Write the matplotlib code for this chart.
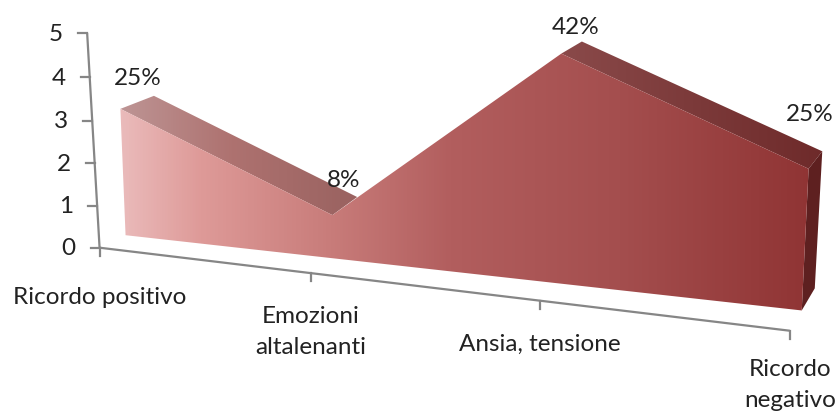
import numpy as np
import matplotlib
matplotlib.use("Agg")
import matplotlib.pyplot as plt
from matplotlib.path import Path
from matplotlib.patches import PathPatch, Polygon
from matplotlib.colors import LinearSegmentedColormap

W, H = 838, 412
categories = ["Ricordo positivo", "Emozioni\naltalenanti", "Ansia, tensione", "Ricordo\nnegativo"]
values = [3, 1, 5, 3]
percent_labels = ["25%", "8%", "42%", "25%"]
y_ticks = [0, 1, 2, 3, 4, 5]


def fit(pairs):
    """Least-squares homography from (category, value) to pixels."""
    A, b = [], []
    for (u, v), (x, y) in pairs:
        A.append([u, v, 1, 0, 0, 0, -u * x, -v * x]); b.append(x)
        A.append([0, 0, 0, u, v, 1, -u * y, -v * y]); b.append(y)
    h = np.linalg.lstsq(np.array(A, float), np.array(b, float), rcond=None)[0]
    M = np.append(h, 1).reshape(3, 3)

    def proj(u, v):
        p = M @ np.array([u, v, 1.0])
        return p[0] / p[2], p[1] / p[2]
    return proj


front = fit([((0, 0), (126, 235)), ((3, 0), (802, 311)), ((0, 3), (120, 109)),
             ((3, 3), (808, 168)), ((1, 1), (332, 215)), ((2, 5), (562, 54))])
back = fit([((0, 3), (154, 96)), ((1, 1), (357, 197)), ((2, 5), (582, 41)),
            ((3, 3), (822, 152)), ((3, 0), (815, 288))])
wall = fit([((0, 0), (100, 248)), ((0, 1), (97, 206)), ((0, 2), (95, 164)),
            ((0, 3), (92, 120)), ((0, 4), (90, 77)), ((0, 5), (87, 33)),
            ((1, 0), (310, 273)), ((2, 0), (540, 301)), ((3, 0), (790, 330)),
            ((3, 5), (800, 90))])

fig = plt.figure(figsize=(W / 100, H / 100), dpi=100)
ax = fig.add_axes([0, 0, 1, 1])
ax.set_xlim(0, W)
ax.set_ylim(H, 0)
ax.axis("off")

plt.rcParams["font.family"] = ["Lato", "DejaVu Sans"]
FS = 17.5
TXT = "#222222"
AXC = "#868686"

n = len(values)
xs = range(n)


def gradient(stops, verts_list, z):
    cm = LinearSegmentedColormap.from_list(
        "g", [((x - 115) / (825 - 115), c) for x, c in stops])
    im = ax.imshow(np.linspace(0, 1, 512)[None, :], cmap=cm, extent=(115, 825, H, 0),
                   aspect="auto", zorder=z, vmin=0, vmax=1)
    codes, verts = [], []
    for vs in verts_list:
        verts += list(vs) + [vs[0]]
        codes += [Path.MOVETO] + [Path.LINETO] * (len(vs) - 1) + [Path.CLOSEPOLY]
    patch = PathPatch(Path(verts, codes), fc="none", ec="none", transform=ax.transData)
    ax.add_patch(patch)
    im.set_clip_path(patch)


# axis lines and ticks
ax.plot(*zip(wall(0, 0), wall(0, 5)), color=AXC, lw=1.6, zorder=1, solid_capstyle="butt")
ax.plot(*zip(wall(0, 0), wall(3, 0)), color=AXC, lw=1.6, zorder=1, solid_capstyle="butt")
for t in y_ticks:
    x, y = wall(0, t)
    ax.plot([x - 9, x], [y, y], color=AXC, lw=1.6, zorder=1)
    ax.text(x - 24, y + 1, str(t), ha="right", va="center", fontsize=FS, color=TXT)
for i in xs:
    x, y = wall(i, 0)
    ax.plot([x, x], [y, y + 8], color=AXC, lw=1.6, zorder=1)

# top bands that stay visible
bands = []
for i in range(n - 1):
    if values[i + 1] < values[i]:
        bands.append([front(i, values[i]), front(i + 1, values[i + 1]),
                      back(i + 1, values[i + 1]), back(i, values[i])])
gradient([(115, "#BE9696"), (230, "#AE7270"), (340, "#9C6462"), (560, "#8A4A4A"),
          (825, "#6E2A2A")], bands, 2)

# right end face
last = n - 1
ax.add_patch(Polygon([front(last, values[last]), back(last, values[last]),
                      back(last, 0), front(last, 0)], fc="#5E2020", ec="none", zorder=2))

# front face
face = [front(0, 0)] + [front(i, values[i]) for i in xs] + [front(last, 0)]
gradient([(115, "#EBBDBD"), (200, "#DE9A98"), (330, "#C87C7A"), (450, "#B25E5E"),
          (620, "#A44E4E"), (825, "#8E3232")], [face], 3)

# percent labels
label_off = [(-16, -17), (-14, -17), (-6, -14), (-13, -37)]
for i in xs:
    x, y = back(i, values[i])
    dx, dy = label_off[i]
    ax.text(x + dx, y + dy, percent_labels[i], ha="center", va="center", fontsize=FS,
            color=TXT, zorder=5)

# category labels
cat_off = [50, 59, 44, 54]
for i in xs:
    x, y = wall(i, 0)
    ax.text(x, y + cat_off[i], categories[i], ha="center", va="center", fontsize=FS,
            color=TXT, linespacing=1.6, zorder=5)

fig.savefig("out.png", dpi=100)
